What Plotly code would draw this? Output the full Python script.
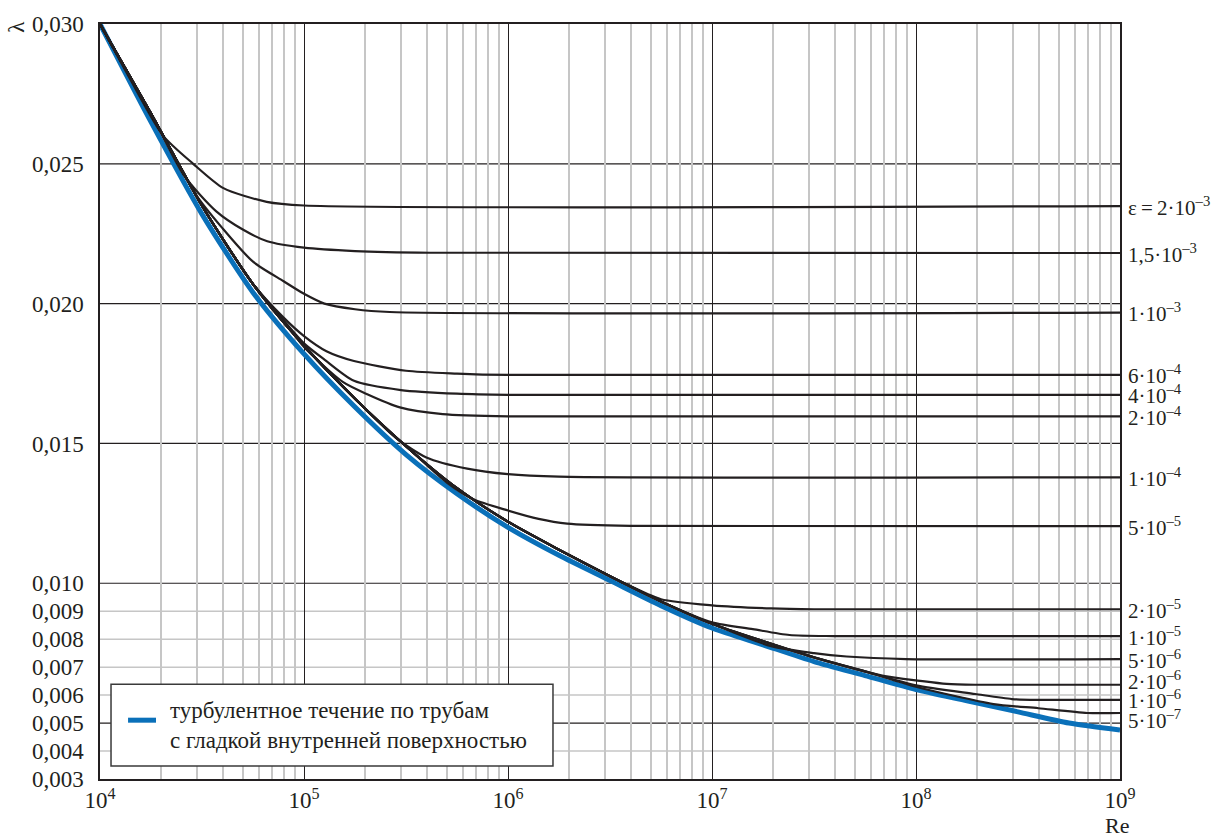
import plotly.graph_objects as go

# ---------------- data ----------------
# smooth-pipe curve (blue): log10(Re) and lambda
blue_exp = [4.0, 4.25, 4.5, 4.75, 5.0, 5.25, 5.5, 5.75, 6.0, 6.25, 6.5, 6.75,
            7.0, 7.25, 7.5, 7.75, 8.0, 8.25, 8.5, 8.75, 9.0]
blue_lam = [0.0300, 0.0265, 0.0232, 0.0204, 0.0182, 0.0163, 0.0146, 0.0132,
            0.0120, 0.0110, 0.0101, 0.0092, 0.0084, 0.0078, 0.0072, 0.0067,
            0.0062, 0.0058, 0.0054, 0.0050, 0.00475]

# black curves run together just above the blue one before they branch off
bundle_exp = [4.0, 4.25, 4.5, 4.75, 5.0, 5.25, 5.5, 5.75, 6.0, 6.25, 6.5, 6.75,
              7.0, 7.25, 7.5, 7.75, 8.0]
bundle_lam = [0.0300, 0.0268, 0.0235, 0.0207, 0.0185, 0.0166, 0.0149, 0.0134,
              0.0122, 0.0112, 0.01025, 0.00935, 0.00855, 0.00793, 0.00735,
              0.00685, 0.00635]

# roughness curves: label, branch point (log10 Re), own tail points
eps_labels = ["ε\u2009=\u20092·10<sup>–3</sup>", "1,5·10<sup>–3</sup>", "1·10<sup>–3</sup>",
              "6·10<sup>–4</sup>", "4·10<sup>–4</sup>", "2·10<sup>–4</sup>",
              "1·10<sup>–4</sup>", "5·10<sup>–5</sup>", "2·10<sup>–5</sup>",
              "1·10<sup>–5</sup>", "5·10<sup>–6</sup>", "2·10<sup>–6</sup>",
              "1·10<sup>–6</sup>", "5·10<sup>–7</sup>"]
eps_split = [4.0, 4.25, 4.25, 4.75, 4.75, 4.75, 5.25, 5.5, 6.5, 6.75, 7.0, 7.5, 7.75, 7.75]
eps_tail_exp = [
    [4.15, 4.31, 4.457, 4.605, 4.817, 5.0, 9.0],
    [4.41, 4.57, 4.70, 4.82, 5.0, 5.25, 5.62, 9.0],
    [4.47, 4.6, 4.75, 4.9, 5.0, 5.1, 5.25, 5.42, 9.0],
    [4.9, 5.0, 5.11, 5.245, 5.5, 5.75, 6.0, 9.0],
    [4.9, 5.0, 5.1, 5.245, 5.475, 5.75, 6.0, 9.0],
    [4.9, 5.0, 5.19, 5.31, 5.47, 5.68, 6.0, 9.0],
    [5.45, 5.6, 5.8, 6.0, 6.25, 9.0],
    [5.7, 5.83, 6.0, 6.15, 6.29, 6.6, 9.0],
    [6.6, 6.75, 7.0, 7.29, 7.5, 9.0],
    [7.0, 7.2, 7.38, 7.6, 9.0],
    [7.29, 7.5, 7.66, 7.95, 9.0],
    [7.84, 8.02, 8.15, 8.29, 9.0],
    [8.0, 8.29, 8.47, 8.6, 9.0],
    [8.0, 8.38, 8.6, 8.84, 9.0],
]
eps_tail_lam = [
    [0.0280, 0.0260, 0.0250, 0.02413, 0.02364, 0.02351, 0.02349],
    [0.0246, 0.0233, 0.02265, 0.02223, 0.0220, 0.02188, 0.02182, 0.02181],
    [0.0239, 0.0227, 0.0215, 0.0208, 0.02035, 0.0200, 0.0198, 0.0197, 0.01968],
    [0.0195, 0.01884, 0.0183, 0.01795, 0.0176, 0.0175, 0.01745, 0.01745],
    [0.0194, 0.01858, 0.0180, 0.01724, 0.01691, 0.01678, 0.01674, 0.01674],
    [0.0194, 0.01845, 0.0172, 0.01676, 0.01629, 0.01605, 0.01597, 0.01597],
    [0.0152, 0.0145, 0.0141, 0.0139, 0.01381, 0.01379],
    [0.0136, 0.0130, 0.0126, 0.0123, 0.01213, 0.01205, 0.01204],
    [0.0099, 0.00943, 0.00921, 0.0091, 0.00907, 0.00907],
    [0.0086, 0.00836, 0.00815, 0.00811, 0.00811],
    [0.00775, 0.0075, 0.00738, 0.00729, 0.00729],
    [0.00669, 0.00651, 0.0064, 0.00637, 0.00637],
    [0.00635, 0.00604, 0.00586, 0.00583, 0.00583],
    [0.0063, 0.00568, 0.00553, 0.00536, 0.00536],
]
label_yshift = [0, 0, 0, 0, 0, 0, 0, 0, 0, 0, 0, 4, 0, -6]

x_tick_vals = [1e4, 1e5, 1e6, 1e7, 1e8, 1e9]
x_tick_text = ["10<sup>4</sup>", "10<sup>5</sup>", "10<sup>6</sup>",
               "10<sup>7</sup>", "10<sup>8</sup>", "10<sup>9</sup>"]
y_tick_vals = [0.003, 0.004, 0.005, 0.006, 0.007, 0.008, 0.009, 0.010,
               0.015, 0.020, 0.025, 0.030]
y_tick_text = ["0,003", "0,004", "0,005", "0,006", "0,007", "0,008", "0,009",
               "0,010", "0,015", "0,020", "0,025", "0,030"]
y_grid_major = [0.005, 0.010, 0.015, 0.020, 0.025]
y_grid_minor = [0.004, 0.006, 0.007, 0.008, 0.009]

legend_text = "турбулентное течение по трубам<br>с гладкой внутренней поверхностью"

# ---------------- styling ----------------
FONT = "Liberation Serif"
INK = "#231f20"
BLUE = "#0a70b9"
GRAY = "#c6c6c6"

fig = go.Figure()

fig.add_trace(go.Scatter(
    x=[10 ** e for e in blue_exp], y=blue_lam, mode="lines",
    line=dict(color=BLUE, width=5, shape="spline", smoothing=0.7),
    name="турбулентное течение по трубам с гладкой внутренней поверхностью",
    showlegend=False))

for i, lab in enumerate(eps_labels):
    xs = [e for e in bundle_exp if e <= eps_split[i]]
    ys = [bundle_lam[k] for k, e in enumerate(bundle_exp) if e <= eps_split[i]]
    xs = xs + eps_tail_exp[i]
    ys = ys + eps_tail_lam[i]
    fig.add_trace(go.Scatter(
        x=[10 ** e for e in xs], y=ys, mode="lines",
        line=dict(color=INK, width=2.2, shape="spline", smoothing=0.7),
        showlegend=False, hoverinfo="skip"))
    fig.add_annotation(
        x=1, xref="paper", y=eps_tail_lam[i][-1], yref="y",
        text=lab, showarrow=False, xanchor="left", yanchor="middle",
        xshift=6, yshift=label_yshift[i],
        font=dict(family=FONT, size=21, color=INK))

shapes = []
for v in y_grid_minor:
    shapes.append(dict(type="line", xref="paper", x0=0, x1=1, yref="y", y0=v, y1=v,
                       line=dict(color=GRAY, width=1.5), layer="below"))
for v in y_grid_major:
    shapes.append(dict(type="line", xref="paper", x0=0, x1=1, yref="y", y0=v, y1=v,
                       line=dict(color=INK, width=1.2), layer="below"))

# legend drawn as a box with a line sample and text
shapes.append(dict(type="rect", xref="paper", yref="paper",
                   x0=0.0108, x1=0.4441, y0=0.0172, y1=0.1255,
                   fillcolor="white", line=dict(color="#3a3a3a", width=1.5), layer="above"))
shapes.append(dict(type="line", xref="paper", yref="paper",
                   x0=0.0275, x1=0.0549, y0=0.0779, y1=0.0779,
                   line=dict(color=BLUE, width=5), layer="above"))

minor_vals = [k * 10 ** d for d in range(4, 9) for k in range(2, 10)]

fig.update_layout(
    width=1213, height=837,
    margin=dict(l=100, r=93, t=22, b=58),
    paper_bgcolor="white", plot_bgcolor="white",
    font=dict(family=FONT, size=23, color=INK),
    shapes=shapes,
    showlegend=False,
    xaxis=dict(type="log", range=[4, 9], tickvals=x_tick_vals, ticktext=x_tick_text,
               showgrid=True, gridcolor=INK, gridwidth=1.2,
               minor=dict(tickvals=minor_vals, showgrid=True, gridcolor=GRAY, gridwidth=1.5,
                          ticks=""),
               showline=True, linecolor=INK, linewidth=1.5, mirror=True,
               ticks="", zeroline=False, tickfont=dict(family=FONT, size=23, color=INK)),
    yaxis=dict(range=[0.003, 0.030], tickvals=y_tick_vals, ticktext=y_tick_text,
               showgrid=False, zeroline=False,
               showline=True, linecolor=INK, linewidth=1.5, mirror=True,
               ticks="", ticklabelstandoff=10,
               tickfont=dict(family=FONT, size=23, color=INK)),
)

fig.add_annotation(x=0.0667, xref="paper", y=0.0707, yref="paper", text=legend_text,
                   showarrow=False, xanchor="left", yanchor="middle", align="left",
                   font=dict(family=FONT, size=23, color=INK))
fig.add_annotation(x=-0.082, xref="paper", y=0.997, yref="paper", text="λ",
                   textangle=-90, showarrow=False, xanchor="center", yanchor="middle",
                   font=dict(family=FONT, size=23, color=INK))
fig.add_annotation(x=0.997, xref="paper", y=-0.062, yref="paper", text="Re",
                   showarrow=False, xanchor="center", yanchor="middle",
                   font=dict(family=FONT, size=22, color=INK))

fig.write_html("out.html")
